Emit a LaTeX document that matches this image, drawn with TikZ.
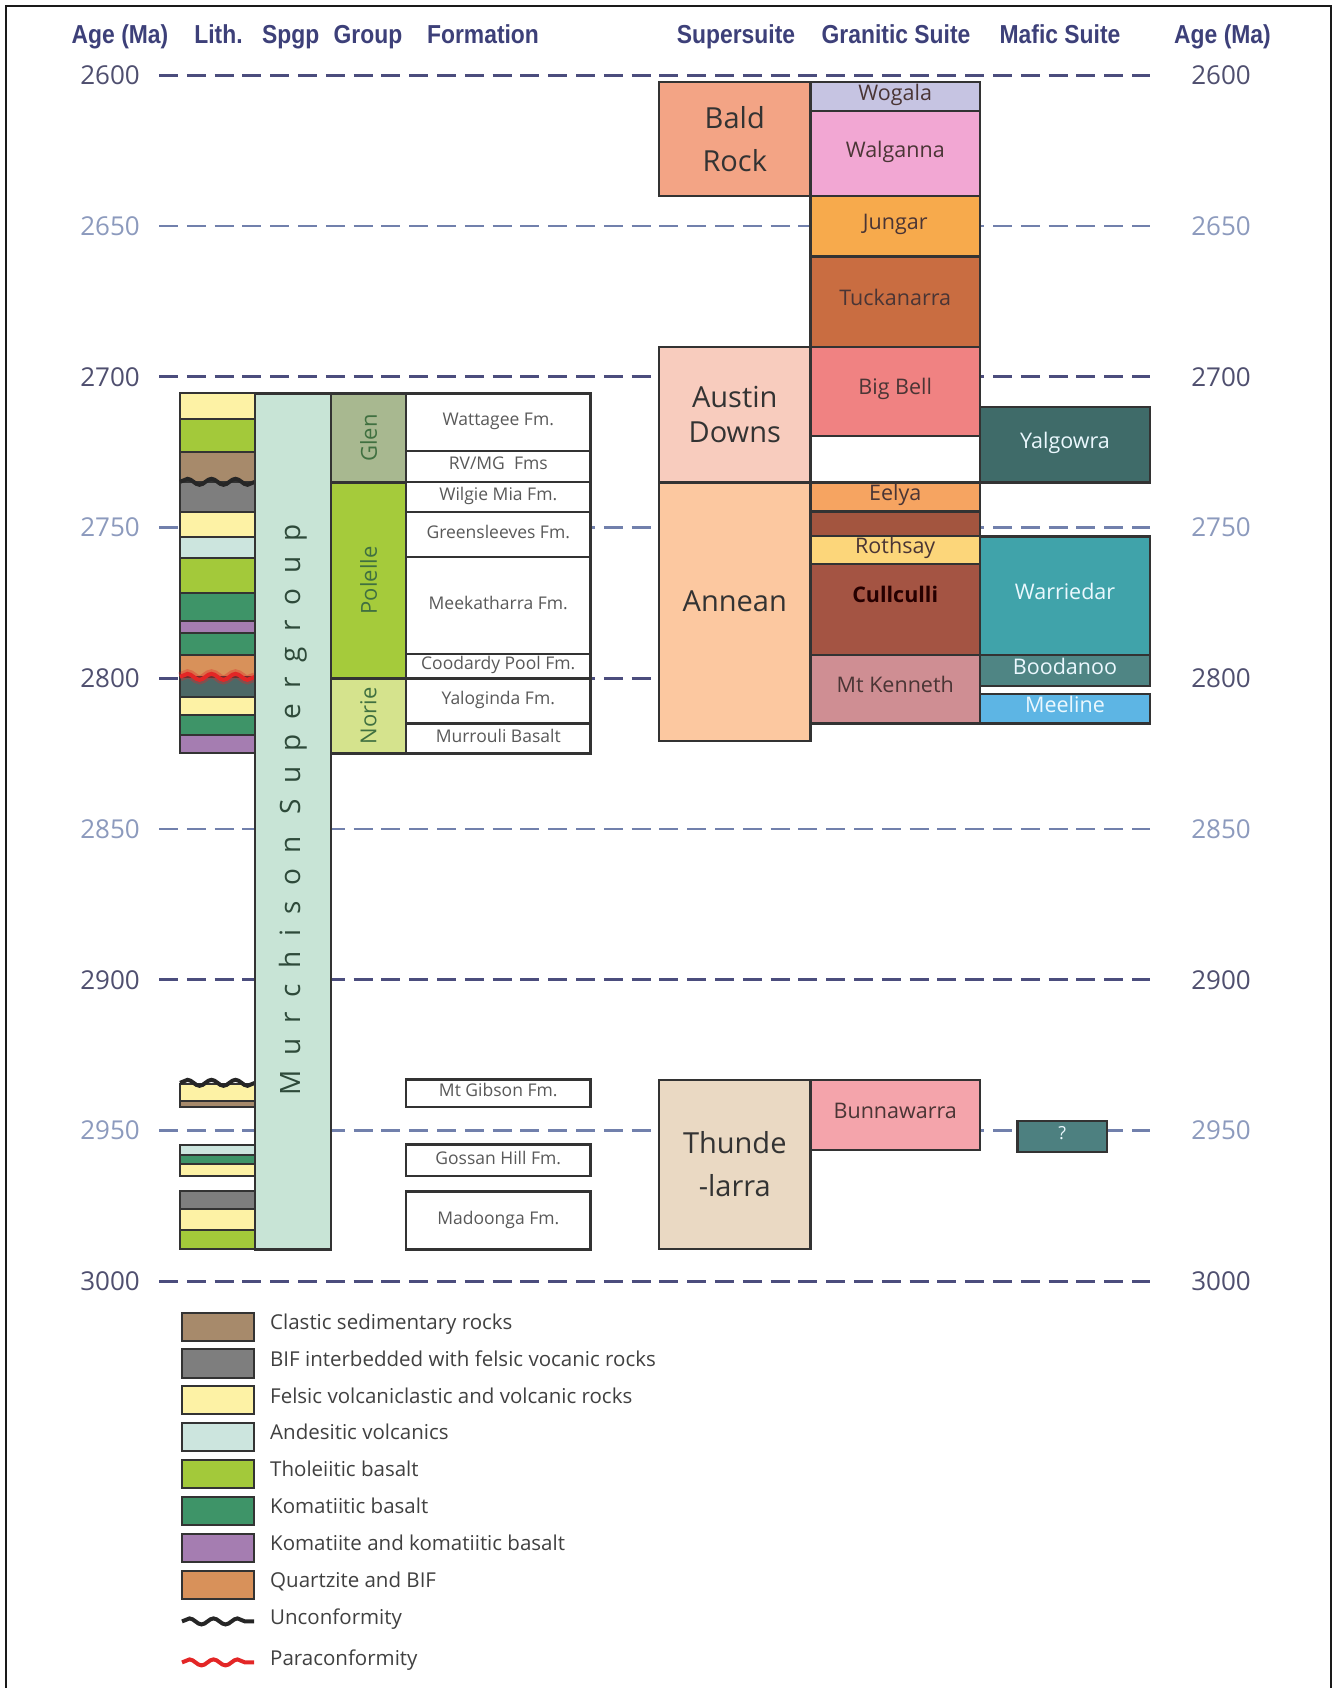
\documentclass[tikz,border=0pt]{standalone}
\usepackage{fontspec}
\setmainfont{Open Sans}
\newfontfamily\headfont[FakeStretch=0.88]{Liberation Sans}
\newfontfamily\spacedfont[LetterSpace=54]{Open Sans}
\usepackage{tikz}
\usetikzlibrary{decorations,decorations.pathmorphing}
\definecolor{frameline}{HTML}{1A1A1A}
\definecolor{head}{HTML}{3D4079}
\definecolor{agedark}{HTML}{4F4F6F}
\definecolor{agelight}{HTML}{8C9ABD}
\definecolor{dashdark}{HTML}{4B4D7D}
\definecolor{dashlight}{HTML}{7180AC}
\definecolor{boxline}{HTML}{333333}
\definecolor{suitetext}{HTML}{4A3535}
\definecolor{spgptext}{HTML}{2E4A3A}
\definecolor{clastic}{HTML}{A78A6B}
\definecolor{bif}{HTML}{7E7E7E}
\definecolor{felsic}{HTML}{FDF2A5}
\definecolor{andes}{HTML}{CCE5DE}
\definecolor{thol}{HTML}{A3C93A}
\definecolor{kombas}{HTML}{3E9468}
\definecolor{komat}{HTML}{A57DB1}
\definecolor{qtzbif}{HTML}{D8915A}
\definecolor{darklayer}{HTML}{4D6866}
\definecolor{spgp}{HTML}{C8E4D6}
\definecolor{glen}{HTML}{A8B890}
\definecolor{polelle}{HTML}{A5CB3B}
\definecolor{norie}{HTML}{D5E38D}
\definecolor{baldrock}{HTML}{F3A485}
\definecolor{wogala}{HTML}{C6C4E2}
\definecolor{walganna}{HTML}{F2A7D3}
\definecolor{jungar}{HTML}{F7AA4C}
\definecolor{tuckanarra}{HTML}{C96D41}
\definecolor{austin}{HTML}{F8CCBE}
\definecolor{bigbell}{HTML}{F08282}
\definecolor{annean}{HTML}{FCC8A0}
\definecolor{eelya}{HTML}{F6A461}
\definecolor{unnamed}{HTML}{A3553F}
\definecolor{rothsay}{HTML}{FCD67A}
\definecolor{cullculli}{HTML}{A45443}
\definecolor{kenneth}{HTML}{CF8E93}
\definecolor{yalgowra}{HTML}{3F6B69}
\definecolor{warriedar}{HTML}{40A3AA}
\definecolor{boodanoo}{HTML}{4F8584}
\definecolor{meeline}{HTML}{5DB5E4}
\definecolor{thundelarra}{HTML}{EAD9C3}
\definecolor{bunnawarra}{HTML}{F4A4AB}
\definecolor{query}{HTML}{4D8080}
\definecolor{paracon}{HTML}{E32626}
\tikzset{box/.style={draw=boxline,line width=2.4pt},layer/.style={draw=boxline,line width=2pt},
  headlab/.style={anchor=base,inner sep=0pt,text=head,font=\headfont\bfseries\fontsize{26}{30}\selectfont},
  agelab/.style={inner sep=0pt,font=\fontsize{26}{30}\selectfont},
  hundred/.style={draw=dashdark,line width=3pt,dash pattern=on 19pt off 8.8pt},
  fifty/.style={draw=dashlight,line width=2.5pt,dash pattern=on 19pt off 8.8pt},
  suplab/.style={inner sep=0pt,align=center,text=black!80,font=\fontsize{29}{43}\selectfont},
  granlab/.style={inner sep=0pt,text=suitetext,text height=1.6ex,text depth=.25ex,font=\fontsize{21.5}{26}\selectfont},
  maflab/.style={granlab,text=white!92!cyan},
  fmlab/.style={inner sep=0pt,text=black!65,text height=1.6ex,text depth=.25ex,font=\fontsize{17.5}{20}\selectfont},
  grplab/.style={inner sep=0pt,rotate=90,text=green!25!black!75,font=\fontsize{22}{26}\selectfont},
  leglab/.style={anchor=mid west,inner sep=0pt,text=black!75,font=\fontsize{20.5}{24}\selectfont},
  uncon/.style={draw=black!85,line width=4pt,decorate,decoration={snake,amplitude=3pt,segment length=24pt}},
  paracon/.style={uncon,draw=paracon}}

\begin{document}
\begin{tikzpicture}[x=1pt,y=-3.014pt]
\useasboundingbox (0,2574.98) rectangle (1336,3135.03);
\draw[frameline,line width=2.5pt] (6,3135.03) |- (1331,2576.97) -- (1331,3135.03);
% column heads
\node[headlab] (hage) at (120,2589.3) {Age (Ma)};
\node[headlab] (hlith) at (218.5,2589.3) {Lith.};
\node[headlab] (hspgp) at (290.7,2589.3) {Spgp};
\node[headlab] (hgroup) at (368,2589.3) {Group};
\node[headlab] (hfm) at (483,2589.3) {Formation};
\node[headlab] (hsup) at (736,2589.3) {Supersuite};
\node[headlab] (hgran) at (896,2589.3) {Granitic Suite};
\node[headlab] (hmaf) at (1060,2589.3) {Mafic Suite};
\node[headlab] (hage2) at (1222.5,2589.3) {Age (Ma)};
% age lines
\foreach \a in {2600,2700,...,3000}{
  \draw[hundred] (159,\a) -- (1150,\a);
  \node[agelab,text=agedark] (l\a) at (110,\a) {\a};
  \node[agelab,text=agedark] (r\a) at (1221,\a) {\a};
}
\foreach \a in {2650,2750,...,2950}{
  \draw[fifty] (159,\a) -- (1150,\a);
  \node[agelab,text=agelight] (l\a) at (110,\a) {\a};
  \node[agelab,text=agelight] (r\a) at (1221,\a) {\a};
}
% lithology
\foreach \t/\b/\c in {2705.5/2713.8/felsic,2713.8/2724.9/thol,2724.9/2734.8/clastic,2734.8/2744.8/bif,
  2744.8/2753.1/felsic,2753.1/2760/andes,2760/2771.8/thol,2771.8/2781/kombas,2781/2785.1/komat,
  2785.1/2792.3/kombas,2792.3/2799.5/qtzbif,2799.5/2806.1/darklayer,2806.1/2812.2/felsic,
  2812.2/2818.8/kombas,2818.8/2824.9/komat,2934.6/2940.2/felsic,2940.2/2942.2/clastic,
  2954.9/2958/andes,2958/2961/kombas,2961/2965.2/felsic,2970.2/2976.2/bif,2976.2/2982.9/felsic,
  2982.9/2989.5/thol}
  \draw[layer,fill=\c] (180,\t) rectangle (255,\b);
\draw[uncon] (180,2734.8) -- (255,2734.8);
\draw[paracon,line width=9pt,opacity=.35] (180,2799.5) -- (255,2799.5);
\draw[paracon] (180,2799.5) -- (255,2799.5);
\draw[uncon] (180,2934.2) -- (255,2934.2);
% supergroup and groups
\draw[box,fill=spgp] (255,2705.5) rectangle (331,2989.5);
\node[inner sep=0pt,rotate=90,text=spgptext,font=\spacedfont\fontsize{28}{30}\selectfont] (murch) at (293,2843.7) {Murchison Supergroup};
\draw[box,fill=glen] (331,2705.5) rectangle (406,2735) node[pos=.5,grplab] (glen) {Glen};
\draw[box,fill=polelle] (331,2735) rectangle (406,2800) node[pos=.5,grplab] (polelle) {Polelle};
\draw[box,fill=norie] (331,2800) rectangle (406,2825) node[pos=.5,grplab] (norie) {Norie};
% formations
\draw[box,fill=white] (406,2705.5) rectangle (590.5,2724.5) node[pos=.5,fmlab] (wattagee) {Wattagee Fm.};
\draw[box,fill=white] (406,2724.5) rectangle (590.5,2734.8) node[pos=.5,fmlab] (rvmg) {RV/MG~ Fms};
\draw[box,fill=white] (406,2734.8) rectangle (590.5,2744.8) node[pos=.5,fmlab] (wilgie) {Wilgie Mia Fm.};
\draw[box,fill=white] (406,2744.8) rectangle (590.5,2759.7) node[pos=.5,fmlab] (greens) {Greensleeves Fm.};
\draw[box,fill=white] (406,2759.7) rectangle (590.5,2792) node[pos=.5,fmlab] (meeka) {Meekatharra Fm.};
\draw[box,fill=white] (406,2792) rectangle (590.5,2800) node[pos=.5,fmlab] (coodardy) {Coodardy Pool Fm.};
\draw[box,fill=white] (406,2800) rectangle (590.5,2815) node[pos=.5,fmlab] (yalog) {Yaloginda Fm.};
\draw[box,fill=white] (406,2815) rectangle (590.5,2825) node[pos=.5,fmlab] (murrouli) {Murrouli Basalt};
\draw[box,fill=white] (406,2933.1) rectangle (590.5,2942.2) node[pos=.5,fmlab] (gibson) {Mt Gibson Fm.};
\draw[box,fill=white] (406,2954.7) rectangle (590.5,2965.2) node[pos=.5,fmlab] (gossan) {Gossan Hill Fm.};
\draw[box,fill=white] (406,2970.2) rectangle (590.5,2989.5) node[pos=.5,fmlab] (madoonga) {Madoonga Fm.};
% supersuites
\draw[box,fill=baldrock] (659,2602.1) rectangle (810.5,2640) node[pos=.5,suplab] (bald) {Bald\\Rock};
\draw[box,fill=austin] (659,2690) rectangle (810.5,2735) node[pos=.5,suplab,font=\fontsize{29}{34.5}\selectfont] (austin) {Austin\\Downs};
\draw[box,fill=annean] (659,2735) rectangle (810.5,2820.8);
\node[suplab] (annean) at (734.8,2774.3) {Annean};
\draw[box,fill=thundelarra] (659,2933.2) rectangle (810.5,2989.3) node[pos=.5,suplab] (thunde) {Thunde\\-larra};
% granitic suites
\draw[box,fill=wogala] (810.5,2602.1) rectangle (980,2611.8) node[pos=.5,granlab] (wogala) {Wogala};
\draw[box,fill=walganna] (810.5,2611.8) rectangle (980,2640) node[pos=.5,granlab] (walganna) {Walganna};
\draw[box,fill=jungar] (810.5,2640) rectangle (980,2660) node[pos=.5,granlab] (jungar) {Jungar};
\draw[box,fill=tuckanarra] (810.5,2660) rectangle (980,2690) node[pos=.5,granlab] (tuckanarra) {Tuckanarra};
\draw[box,fill=bigbell] (810.5,2690) rectangle (980,2719.6) node[pos=.5,granlab] (bigbell) {Big Bell};
\draw[box,fill=eelya] (810.5,2735) rectangle (980,2744.6) node[pos=.5,granlab] (eelya) {Eelya};
\draw[box,fill=unnamed] (810.5,2744.6) rectangle (980,2752.7);
\draw[box,fill=rothsay] (810.5,2752.7) rectangle (980,2762) node[pos=.5,granlab] (rothsay) {Rothsay};
\draw[box,fill=cullculli] (810.5,2762) rectangle (980,2792.3);
\node[granlab,text=black!85!red,font=\bfseries\fontsize{21.5}{26}\selectfont] (cullculli) at (895.2,2773.5) {Cullculli};
\draw[box,fill=kenneth] (810.5,2792.3) rectangle (980,2815) node[pos=.5,granlab] (kenneth) {Mt Kenneth};
\draw[box,fill=bunnawarra] (810.5,2933.2) rectangle (980,2956.4) node[pos=.5,granlab] (bunnawarra) {Bunnawarra};
% mafic suites
\draw[box,fill=yalgowra] (980,2710) rectangle (1150,2735) node[pos=.5,maflab] (yalgowra) {Yalgowra};
\draw[box,fill=warriedar] (980,2752.9) rectangle (1150,2792.3) node[pos=.5,maflab] (warriedar) {Warriedar};
\draw[box,fill=boodanoo] (980,2792.3) rectangle (1150,2802.5) node[pos=.5,maflab] (boodanoo) {Boodanoo};
\draw[box,fill=meeline] (980,2805.2) rectangle (1150,2815) node[pos=.5,maflab] (meeline) {Meeline};
\draw[box,fill=query] (1017.4,2946.8) rectangle (1106.8,2957.1) node[pos=.5,maflab,font=\fontsize{18}{20}\selectfont] (query) {?};
% legend
\foreach \c/\txt [count=\i] in {clastic/Clastic sedimentary rocks,bif/BIF interbedded with felsic vocanic rocks,
  felsic/Felsic volcaniclastic and volcanic rocks,andes/Andesitic volcanics,thol/Tholeiitic basalt,
  kombas/Komatiitic basalt,komat/Komatiite and komatiitic basalt,qtzbif/Quartzite and BIF}{
  \pgfmathsetmacro\yy{3015.1+(\i-1)*12.23}
  \draw[layer,fill=\c] (182,\yy-4.65) rectangle (254,\yy+4.65);
  \node[leglab] (leg\i) at (270,\yy) {\txt};
}
\draw[uncon] (182,3112.9) -- (254,3112.9);
\node[leglab] (leg9) at (270,3112.9) {Unconformity};
\draw[paracon] (182,3126.5) -- (254,3126.5);
\node[leglab] (leg10) at (270,3126.5) {Paraconformity};
\end{tikzpicture}
\end{document}
